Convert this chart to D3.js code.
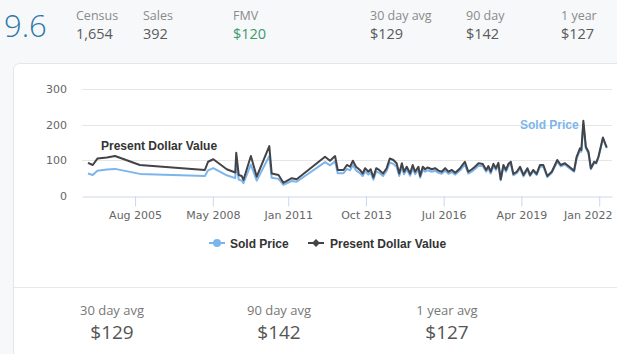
<!DOCTYPE html>
<html>
<head>
<meta charset="utf-8">
<script src="https://cdn.jsdelivr.net/npm/d3@7"></script>
<style>
  html, body { margin: 0; padding: 0; background: #f7f8fa; }
  svg { display: block; }
</style>
</head>
<body>
<svg id="chart" width="617" height="354"></svg>
<script>
// header + footer stats
const headerLabels = ['Census', 'Sales', 'FMV', '30 day avg', '90 day', '1 year'];
const headerValues = ['1,654', '392', '$120', '$129', '$142', '$127'];
const footerLabels = ['30 day avg', '90 day avg', '1 year avg'];
const footerValues = ['$129', '$142', '$127'];

// series
const dates = [
  '2003-12-01', '2004-02-01', '2004-04-01', '2004-08-01', '2004-11-15', '2005-10-01',
  '2008-01-20', '2008-03-01', '2008-05-08', '2008-10-28', '2009-02-15', '2009-02-28',
  '2009-04-01', '2009-05-10', '2009-06-01', '2009-09-05', '2009-11-20', '2010-05-01',
  '2010-06-01', '2010-08-28', '2010-10-30', '2011-02-15', '2011-04-20', '2012-04-20',
  '2012-06-24', '2012-08-28', '2012-10-01', '2012-12-15', '2013-01-28', '2013-03-10',
  '2013-04-15', '2013-05-25', '2013-07-15', '2013-08-20', '2013-09-20', '2013-11-01',
  '2013-12-01', '2014-01-05', '2014-02-10', '2014-03-20', '2014-05-10', '2014-06-25',
  '2014-08-05', '2014-09-20', '2014-11-01', '2014-12-05', '2015-01-08', '2015-02-05',
  '2015-03-12', '2015-04-25', '2015-05-28', '2015-06-28', '2015-08-10', '2015-09-01',
  '2015-10-05', '2015-11-05', '2015-12-05', '2016-01-30', '2016-03-12', '2016-04-25',
  '2016-06-05', '2016-07-20', '2016-09-01', '2016-10-15', '2016-11-28', '2017-01-30',
  '2017-04-01', '2017-05-15', '2017-07-01', '2017-08-10', '2017-09-25', '2017-11-18',
  '2018-01-01', '2018-01-30', '2018-03-01', '2018-04-05', '2018-05-08', '2018-06-08',
  '2018-07-08', '2018-08-12', '2018-09-15', '2018-10-15', '2018-11-15', '2018-12-18',
  '2019-02-01', '2019-03-15', '2019-04-28', '2019-06-18', '2019-07-22', '2019-09-01',
  '2019-10-15', '2019-11-28', '2020-01-10', '2020-03-01', '2020-04-28', '2020-07-08',
  '2020-08-22', '2020-10-15', '2020-12-10', '2021-02-10', '2021-03-15', '2021-04-28',
  '2021-05-15', '2021-06-10', '2021-07-12', '2021-08-15', '2021-09-15', '2021-10-28',
  '2021-11-22', '2021-12-22', '2022-02-18', '2022-04-08'
];
const soldPrice = [
  63, 59, 71, 74, 76, 62,
  56, 72, 78, 58, 50, 92,
  46, 43, 36, 88, 43, 112,
  51, 48, 31, 42, 40, 95,
  86, 97, 64, 64, 76, 72,
  87, 72, 64, 56, 69, 60,
  66, 46, 69, 65, 56, 70,
  94, 90, 82, 56, 82, 61,
  74, 57, 78, 61, 74, 51,
  74, 68, 72, 68, 71, 65,
  62, 71, 62, 67, 60, 72,
  88, 63, 69, 76, 85, 84,
  68, 78, 63, 84, 73, 87,
  44, 81, 68, 84, 90, 58,
  64, 77, 55, 73, 56, 69,
  59, 82, 82, 53, 65, 96,
  83, 88, 78, 68, 105, 128,
  124, 203, 133, 120, 75, 93,
  91, 108, 161, 134
];
const presentValue = [
  93, 87, 105, 108, 112, 87,
  73, 96, 103, 75, 66, 121,
  59, 56, 45, 112, 54, 140,
  63, 59, 37, 50, 47, 110,
  99, 112, 73, 73, 87, 82,
  99, 82, 73, 63, 78, 68,
  75, 52, 78, 73, 63, 78,
  105, 101, 92, 63, 92, 68,
  82, 63, 87, 68, 82, 56,
  82, 75, 80, 75, 78, 71,
  68, 78, 68, 73, 65, 78,
  96, 68, 75, 82, 92, 90,
  73, 84, 68, 90, 78, 93,
  47, 87, 73, 90, 96, 62,
  68, 82, 59, 78, 59, 73,
  62, 87, 87, 56, 68, 101,
  87, 92, 82, 71, 110, 134,
  129, 211, 138, 124, 78, 96,
  93, 110, 164, 136
];
const yTicks = [0, 100, 200, 300];
const xTickDates = ['2005-08-01', '2008-05-01', '2011-01-01', '2013-10-01', '2016-07-01', '2019-04-01', '2022-01-01'];

const parse = d3.timeParse('%Y-%m-%d');
const svg = d3.select('#chart');
const blue = '#7cb5ec', dark = '#434348';
const boldFont = 'Liberation Sans';

// header strip
svg.append('text').attr('x', 4).attr('y', 37)
  .attr('font-family', 'Open Sans').attr('font-weight', 300).attr('font-size', 31)
  .attr('fill', '#2c78a8').text('9.6');

const headerX = [76, 143, 233, 370, 466, 561];
headerLabels.forEach(function (label, i) {
  svg.append('text').attr('x', headerX[i]).attr('y', 20)
    .attr('font-family', 'Open Sans').attr('font-size', 12.5).attr('fill', '#8a8a8a').text(label);
  svg.append('text').attr('x', headerX[i]).attr('y', 39)
    .attr('font-family', 'Open Sans').attr('font-size', 14.5)
    .attr('fill', label === 'FMV' ? '#3b9a6b' : '#5a5a5a').text(headerValues[i]);
});

// card
svg.append('rect').attr('x', 13.5).attr('y', 63.5).attr('width', 640).attr('height', 320)
  .attr('rx', 6).attr('fill', '#fff').attr('stroke', '#e4e6ea');
svg.append('line').attr('x1', 14).attr('x2', 617).attr('y1', 287.5).attr('y2', 287.5)
  .attr('stroke', '#e6e8eb');

const footerX = [112, 279, 447];
footerLabels.forEach(function (label, i) {
  svg.append('text').attr('x', footerX[i]).attr('y', 315).attr('text-anchor', 'middle')
    .attr('font-family', 'Open Sans').attr('font-size', 13).attr('fill', '#777').text(label);
  svg.append('text').attr('x', footerX[i]).attr('y', 339).attr('text-anchor', 'middle')
    .attr('font-family', 'Open Sans').attr('font-size', 19).attr('fill', '#555').text(footerValues[i]);
});

// chart
const x = d3.scaleTime()
  .domain([parse('2003-09-15'), parse('2022-06-15')])
  .range([82, 612]);
const y = d3.scaleLinear().domain([0, 300]).range([196, 89]);

const g = svg.append('g').attr('font-family', 'DejaVu Sans');

g.selectAll('line.grid').data(yTicks.slice(1)).enter().append('line')
  .attr('class', 'grid')
  .attr('x1', 82).attr('x2', 612)
  .attr('y1', function (d) { return Math.round(y(d)) + 0.5; })
  .attr('y2', function (d) { return Math.round(y(d)) + 0.5; })
  .attr('stroke', '#e6e6e6');

g.selectAll('text.ylab').data(yTicks).enter().append('text')
  .attr('class', 'ylab')
  .attr('x', 67).attr('y', function (d) { return y(d) + 4; })
  .attr('text-anchor', 'end').attr('font-size', 11).attr('fill', '#666')
  .text(function (d) { return d; });

const xAxis = d3.axisBottom(x)
  .tickValues(xTickDates.map(parse))
  .tickFormat(d3.timeFormat('%b %Y'))
  .tickSize(10).tickSizeOuter(0).tickPadding(5);
const ax = g.append('g').attr('transform', 'translate(0,196.5)').call(xAxis);
ax.select('.domain').attr('stroke', '#ccd6eb');
ax.selectAll('.tick line').attr('stroke', '#ccd6eb');
ax.selectAll('.tick text').attr('font-family', 'DejaVu Sans').attr('font-size', 11).attr('fill', '#666');
// last label pulled in so it stays inside the plot, like the original
ax.selectAll('.tick text').filter(function (d, i) { return i === xTickDates.length - 1; })
  .attr('text-anchor', 'end').attr('x', 612 - x(parse(xTickDates[xTickDates.length - 1])));

const rows = dates.map(function (d, i) {
  return { date: parse(d), sold: soldPrice[i], present: presentValue[i] };
});

const soldLine = d3.line().x(function (d) { return x(d.date); }).y(function (d) { return y(d.sold); });
const presentLine = d3.line().x(function (d) { return x(d.date); }).y(function (d) { return y(d.present); });

g.append('path').datum(rows).attr('d', soldLine)
  .attr('fill', 'none').attr('stroke', blue).attr('stroke-width', 2).attr('stroke-linejoin', 'round');
g.append('path').datum(rows).attr('d', presentLine)
  .attr('fill', 'none').attr('stroke', dark).attr('stroke-width', 2).attr('stroke-linejoin', 'round');

// series labels
g.append('text').attr('x', 101).attr('y', 150).attr('font-family', boldFont)
  .attr('font-size', 12).attr('font-weight', 'bold')
  .attr('fill', '#333').text('Present Dollar Value');
g.append('text').attr('x', 520).attr('y', 129).attr('font-family', boldFont)
  .attr('font-size', 12).attr('font-weight', 'bold')
  .attr('fill', blue).text('Sold Price');

// legend
const legend = g.append('g').attr('transform', 'translate(0,243)');
legend.append('line').attr('x1', 209).attr('x2', 225).attr('stroke', blue).attr('stroke-width', 2);
legend.append('circle').attr('cx', 217).attr('r', 4).attr('fill', blue);
legend.append('text').attr('x', 230).attr('y', 4.5).attr('font-family', boldFont)
  .attr('font-size', 12).attr('font-weight', 'bold')
  .attr('fill', '#333').text('Sold Price');
legend.append('line').attr('x1', 308).attr('x2', 324).attr('stroke', dark).attr('stroke-width', 2);
legend.append('path').attr('d', d3.symbol(d3.symbolDiamond2, 40)()).attr('transform', 'translate(316,0)')
  .attr('fill', dark);
legend.append('text').attr('x', 330).attr('y', 4.5).attr('font-family', boldFont)
  .attr('font-size', 12).attr('font-weight', 'bold')
  .attr('fill', '#333').text('Present Dollar Value');
</script>
</body>
</html>
